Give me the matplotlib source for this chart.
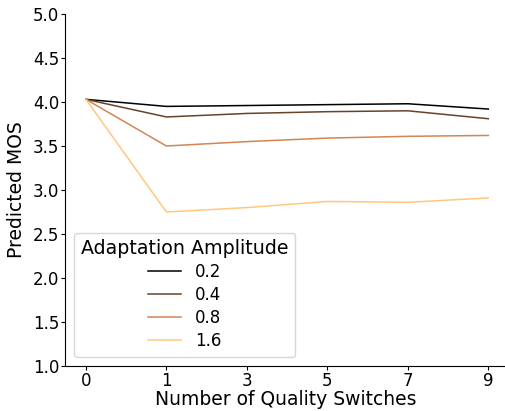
import matplotlib.pyplot as plt
import numpy as np

# data
switches = ['0', '1', '3', '5', '7', '9']
amplitudes = ['0.2', '0.4', '0.8', '1.6']
mos_02 = [4.03, 3.95, 3.96, 3.97, 3.98, 3.92]
mos_04 = [4.03, 3.83, 3.87, 3.89, 3.90, 3.81]
mos_08 = [4.03, 3.50, 3.55, 3.59, 3.61, 3.62]
mos_16 = [4.03, 2.75, 2.80, 2.87, 2.86, 2.91]
series = [mos_02, mos_04, mos_08, mos_16]

colors = plt.cm.copper(np.linspace(0, 1, len(series)))

fig = plt.figure(figsize=(5.06, 4.11), dpi=100)
ax = fig.add_axes([65 / 506, 45 / 411, 441 / 506, 352 / 411])

x = np.arange(len(switches))
for vals, lab, c in zip(series, amplitudes, colors):
    ax.plot(x, vals, color=c, linewidth=1.1, label=lab)

ax.set_xticks(x)
ax.set_xticklabels(switches)
ax.set_xlim(-0.26, 5.22)
ax.set_ylim(1.0, 5.0)
ax.set_yticks(np.arange(1.0, 5.01, 0.5))
ax.tick_params(labelsize=12, length=2.8, pad=1.2)
ax.spines['top'].set_visible(False)
ax.spines['right'].set_visible(False)

ax.set_xlabel('Number of Quality Switches', fontsize=13.5, labelpad=0.5)
ax.set_ylabel('Predicted MOS', fontsize=13.5, labelpad=5)

ax.legend(title='Adaptation Amplitude', fontsize=12, title_fontsize=13.7,
          loc='lower left', labelspacing=0.3, borderaxespad=0.55)

fig.savefig('out.png', dpi=100)
